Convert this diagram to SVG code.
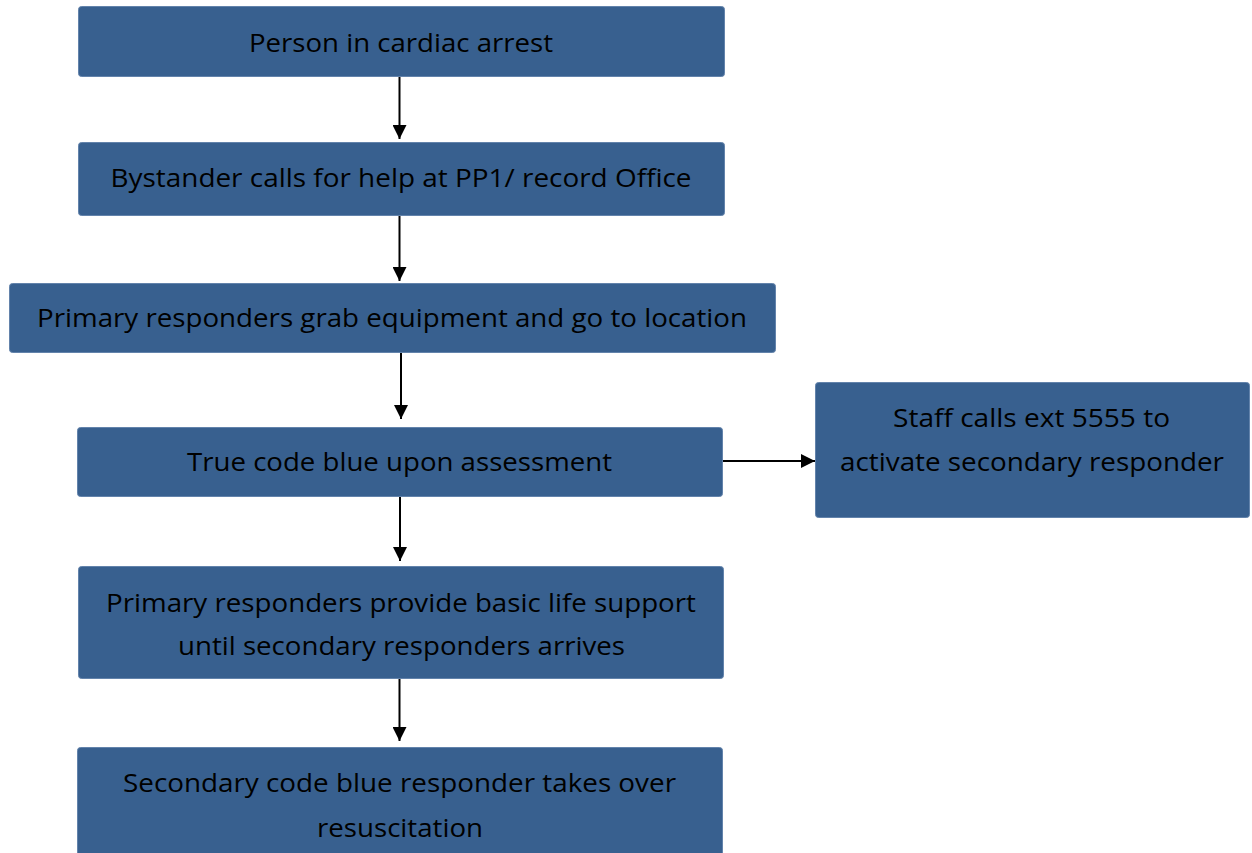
<svg xmlns="http://www.w3.org/2000/svg" width="1252" height="853" viewBox="0 0 1252 853">
  <style>
    .box { fill: #38608f; stroke: #6383ab; stroke-width: 1; }
    .label { font-family: "Open Sans", "Liberation Sans", sans-serif; font-size: 25px; fill: #000; text-anchor: middle; }
    .edge { stroke: #000; stroke-width: 2; fill: none; }
  </style>
  <defs>
    <marker id="head" viewBox="0 0 14 14" refX="14" refY="7" markerWidth="14" markerHeight="14" markerUnits="userSpaceOnUse" orient="auto">
      <path d="M0,0 L14,7 L0,14 z" fill="#000"/>
    </marker>
  </defs>

  <g id="connectors">
    <line class="edge" x1="399.5" y1="77" x2="399.5" y2="139" marker-end="url(#head)"/>
    <line class="edge" x1="399.5" y1="216" x2="399.5" y2="281" marker-end="url(#head)"/>
    <line class="edge" x1="401" y1="353" x2="401" y2="419" marker-end="url(#head)"/>
    <line class="edge" x1="400" y1="497" x2="400" y2="561" marker-end="url(#head)"/>
    <line class="edge" x1="399.5" y1="679" x2="399.5" y2="741" marker-end="url(#head)"/>
    <line class="edge" x1="723" y1="461" x2="815" y2="461" marker-end="url(#head)"/>
  </g>

  <g id="node-arrest">
    <rect class="box" x="78.5" y="6.5" width="646" height="70" rx="3"/>
    <text class="label" x="401" y="52" textLength="304" lengthAdjust="spacingAndGlyphs">Person in cardiac arrest</text>
  </g>

  <g id="node-bystander">
    <rect class="box" x="78.5" y="142.5" width="646" height="73" rx="3"/>
    <text class="label" x="401" y="187" textLength="581" lengthAdjust="spacingAndGlyphs">Bystander calls for help at PP1/ record Office</text>
  </g>

  <g id="node-primary-grab">
    <rect class="box" x="9.5" y="283.5" width="766" height="69" rx="3"/>
    <text class="label" x="392" y="327" textLength="710" lengthAdjust="spacingAndGlyphs">Primary responders grab equipment and go to location</text>
  </g>

  <g id="node-true-code">
    <rect class="box" x="77.5" y="427.5" width="645" height="69" rx="3"/>
    <text class="label" x="399.5" y="471" textLength="425" lengthAdjust="spacingAndGlyphs">True code blue upon assessment</text>
  </g>

  <g id="node-staff-calls">
    <rect class="box" x="815.5" y="382.5" width="434" height="135" rx="3"/>
    <text class="label" x="1031.5" y="427" textLength="277" lengthAdjust="spacingAndGlyphs">Staff calls ext 5555 to</text>
    <text class="label" x="1032" y="471" textLength="384" lengthAdjust="spacingAndGlyphs">activate secondary responder</text>
  </g>

  <g id="node-bls">
    <rect class="box" x="78.5" y="566.5" width="645" height="112" rx="3"/>
    <text class="label" x="401" y="612" textLength="590" lengthAdjust="spacingAndGlyphs">Primary responders provide basic life support</text>
    <text class="label" x="401.5" y="655" textLength="447" lengthAdjust="spacingAndGlyphs">until secondary responders arrives</text>
  </g>

  <g id="node-secondary">
    <rect class="box" x="77.5" y="747.5" width="645" height="120" rx="3"/>
    <text class="label" x="399.5" y="792" textLength="553" lengthAdjust="spacingAndGlyphs">Secondary code blue responder takes over</text>
    <text class="label" x="400" y="837" textLength="166" lengthAdjust="spacingAndGlyphs">resuscitation</text>
  </g>
</svg>
